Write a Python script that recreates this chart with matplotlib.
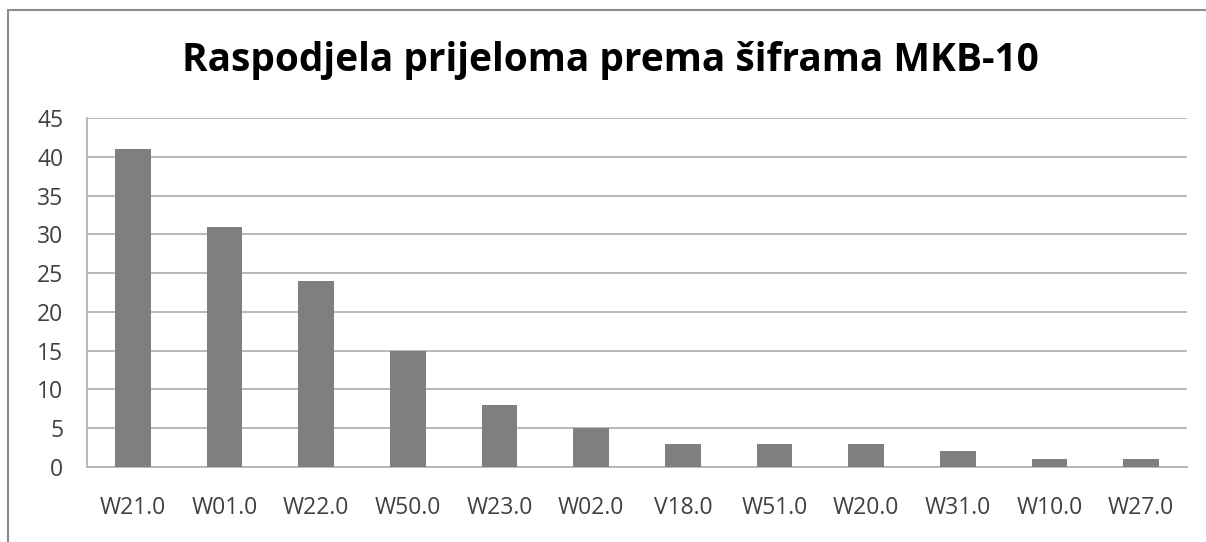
import matplotlib
matplotlib.use("Agg")
import matplotlib.pyplot as plt
from matplotlib.patches import Rectangle

categories = ["W21.0", "W01.0", "W22.0", "W50.0", "W23.0", "W02.0",
              "V18.0", "W51.0", "W20.0", "W31.0", "W10.0", "W27.0"]
values = [41, 31, 24, 15, 8, 5, 3, 3, 3, 2, 1, 1]
yticks = [0, 5, 10, 15, 20, 25, 30, 35, 40, 45]
title = "Raspodjela prijeloma prema šiframa MKB-10"

plt.rcParams['font.family'] = ['Open Sans', 'DejaVu Sans']

W, H = 1206, 542
fig = plt.figure(figsize=(W/100, H/100), dpi=100)
fig.patch.set_facecolor("white")

# outer chart frame (top and left edges visible)
fig.patches.append(Rectangle((8/W, -0.1), 1.2, (H-10)/H + 0.1, transform=fig.transFigure,
                             fill=False, edgecolor="#8c8c8c", linewidth=1.5))

left, right, top, bottom = 87, 1187, 118, 467
ax = fig.add_axes([left/W, 1 - bottom/H, (right-left)/W, (bottom-top)/H])
x = list(range(len(categories)))
ax.bar(x, values, width=0.39, color="#7f7f7f", zorder=3)
ax.set_xlim(-0.5, len(categories)-0.5)
ax.set_ylim(0, 45)
ax.set_yticks(yticks)
ax.set_xticks(x)
ax.set_xticklabels(categories)
ax.yaxis.grid(True, color="#b3b3b3", linewidth=1.3, zorder=0)
for s in ["top", "right"]:
    ax.spines[s].set_visible(False)
ax.spines["left"].set_color("#b3b3b3")
ax.spines["bottom"].set_color("#b3b3b3")
ax.spines["left"].set_linewidth(1.3)
ax.spines["bottom"].set_linewidth(1.3)
ax.tick_params(axis="both", length=0, labelsize=16.5, colors="#404040")
ax.tick_params(axis="x", pad=21)
ax.tick_params(axis="y", pad=17)
fig.text(0.506, 1 - 60/H, title, ha="center", va="center", fontsize=28,
         fontweight="bold", color="black")

fig.savefig("out.png", dpi=100)
